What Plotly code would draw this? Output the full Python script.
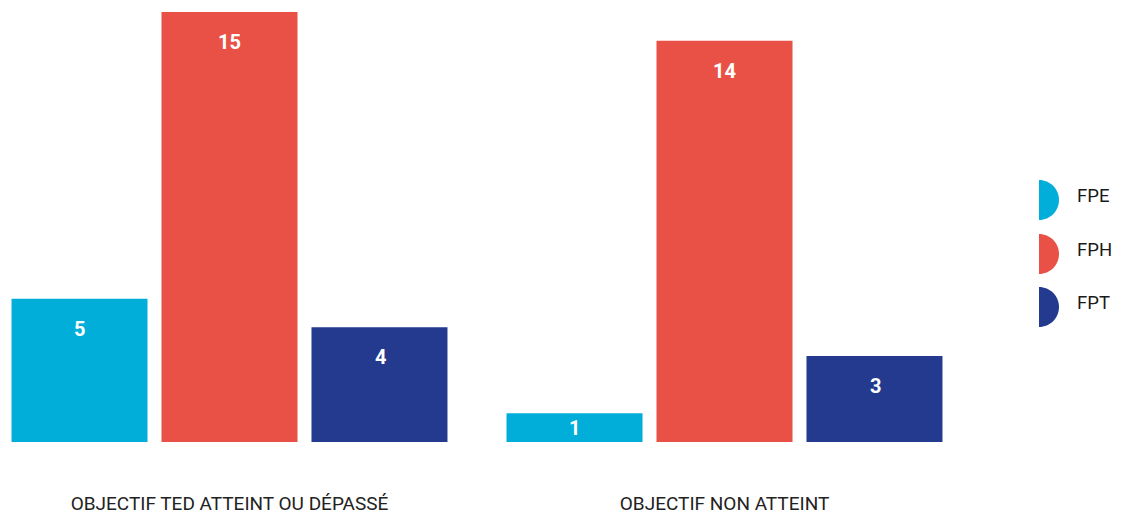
import plotly.graph_objects as go

categories = ["OBJECTIF TED ATTEINT OU DÉPASSÉ", "OBJECTIF NON ATTEINT"]
series_names = ["FPE", "FPH", "FPT"]
fpe = [5, 1]
fph = [15, 14]
fpt = [4, 3]
series_values = [fpe, fph, fpt]
colors = ["#00AED9", "#E95147", "#233A8F"]

W, H = 1122, 514
ML, MR, MT, MB = 0, 132, 12, 72
plot_w = W - ML - MR  # 990
plot_h = H - MT - MB  # 430
ymax = 15

fig = go.Figure()
for name, vals, col in zip(series_names, series_values, colors):
    fig.add_trace(go.Bar(x=[0, 1], y=vals, name=name, marker_color=col,
                         marker_line_width=0, showlegend=False, hoverinfo="y+name"))

# value labels
px_per_unit = plot_h / ymax
slot = 150.5
for i, (vals, col) in enumerate(zip(series_values, colors)):
    for j, v in enumerate(vals):
        shift = -min(30, v * px_per_unit / 2)
        fig.add_annotation(x=j, y=v, xref="x", yref="y", text=str(v), showarrow=False,
                           xshift=(i - 1) * slot, yshift=shift, yanchor="middle",
                           font=dict(family="Roboto", size=20, color="white", weight="bold"))

# legend (D-shaped markers)
leg_y_px = [200, 254, 307]
k = 11.05
path = f"M0,20 C{k},20 20,{k} 20,0 C20,{-k} {k},-20 0,-20 Z"
for name, col, ypx in zip(series_names, colors, leg_y_px):
    yp = (MT + plot_h - ypx) / plot_h
    fig.add_shape(type="path", xref="paper", yref="paper", xsizemode="pixel", ysizemode="pixel",
                  xanchor=1039 / plot_w, yanchor=yp, path=path, fillcolor=col, line_width=0)
    fig.add_annotation(x=1075 / plot_w, y=(MT + plot_h - (ypx - 4)) / plot_h, xref="paper", yref="paper",
                       text=name, showarrow=False, xanchor="left", yanchor="middle",
                       font=dict(family="Roboto", size=18.5, color="#1a1a1a"))

a = -229.5 / 495
fig.update_layout(
    width=W, height=H,
    margin=dict(l=ML, r=MR, t=MT, b=MB, pad=0),
    paper_bgcolor="white", plot_bgcolor="white",
    showlegend=False,
    barmode="group", bargap=0.091, bargroupgap=0.0933,
    xaxis=dict(range=[a, a + 2], tickvals=[0, 1], ticktext=categories, showgrid=False,
               zeroline=False, showline=False, ticks="", ticklabelstandoff=48, automargin=False,
               tickfont=dict(family="Roboto", size=19, color="#222222"), fixedrange=True),
    yaxis=dict(range=[0, ymax], visible=False, showgrid=False, zeroline=False, fixedrange=True,
               automargin=False),
)
fig.write_html("out.html")
